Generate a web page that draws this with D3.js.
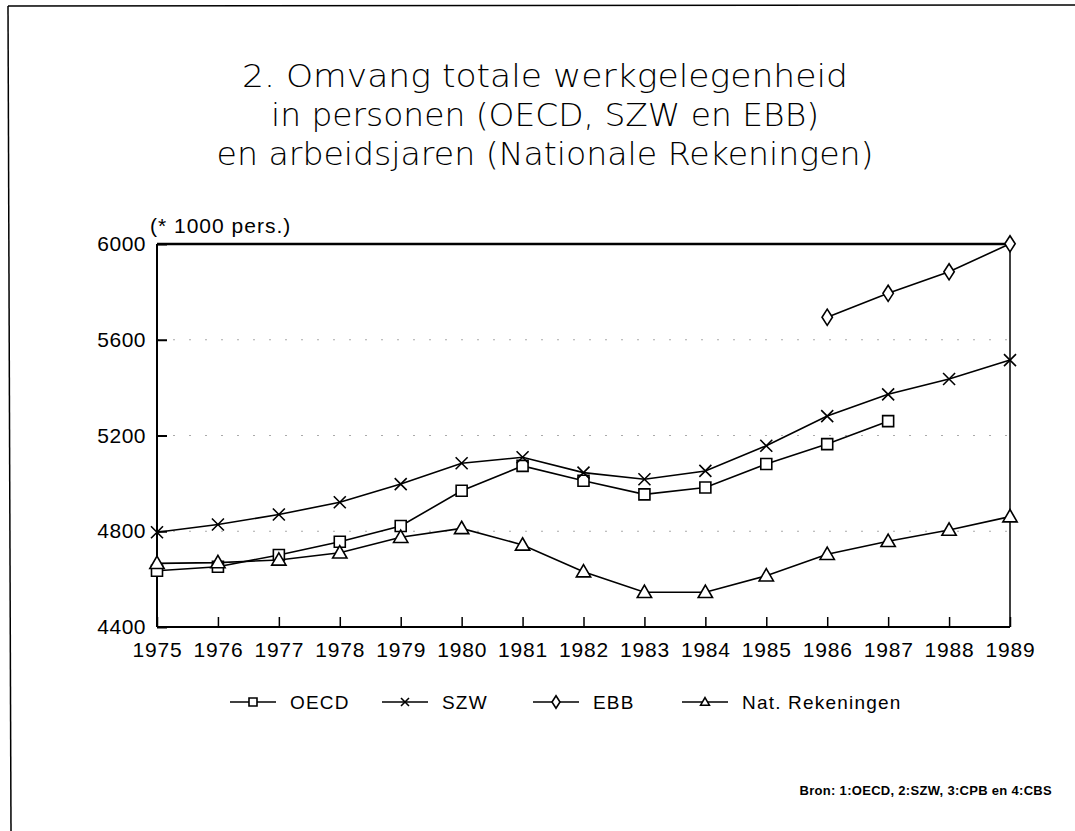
<!DOCTYPE html>
<html><head><meta charset="utf-8">
<script src="https://cdn.jsdelivr.net/npm/d3@7"></script>
<style>body{margin:0;background:#fff}svg{display:block}text{font-family:"Liberation Sans",Arial,sans-serif;fill:#000}</style>
</head><body><svg id="c" width="1075" height="831"></svg>
<script>
const years = [1975,1976,1977,1978,1979,1980,1981,1982,1983,1984,1985,1986,1987,1988,1989];
const oecd = [4635,4652,4701,4756,4822,4969,5073,5011,4954,4983,5081,5164,5260,null,null];
const szw = [4796,4828,4870,4921,4997,5084,5109,5045,5017,5052,5157,5281,5372,5436,5515];
const ebb = [null,null,null,null,null,null,null,null,null,null,null,5694,5794,5884,6001];
const natRek = [4666,4669,4680,4710,4775,4812,4743,4631,4545,4545,4614,4704,4758,4805,4861];
const yTicks = [4400,4800,5200,5600,6000];
const seriesNames = ["OECD","SZW","EBB","Nat. Rekeningen"];
const titleLines = ["2. Omvang totale werkgelegenheid","in personen (OECD, SZW en EBB)","en arbeidsjaren (Nationale Rekeningen)"];

const svg = d3.select("#c");
const L=157, R=1010, T=244, B=627;
const x = d3.scaleLinear().domain([1975,1989]).range([L,R]);
const y = d3.scaleLinear().domain([4400,6000]).range([B,T]);

// page frame
svg.append("line").attr("x1",8).attr("y1",6).attr("x2",1075).attr("y2",5).attr("stroke","#000").attr("stroke-width",1.5);
svg.append("line").attr("x1",8).attr("y1",6).attr("x2",11).attr("y2",831).attr("stroke","#000").attr("stroke-width",1.5);

// title
const titleW = [606,548,657];
svg.append("g").selectAll("text").data(titleLines).join("text")
  .attr("x",545).attr("y",(d,i)=>87+i*39).attr("text-anchor","middle")
  .attr("textLength",(d,i)=>titleW[i]).attr("lengthAdjust","spacingAndGlyphs")
  .style("font-family","'DejaVu Sans',sans-serif").style("font-weight","200")
  .style("font-size","32px").text(d=>d);

svg.append("text").attr("x",150).attr("y",233)
  .style("font-size","21px").style("letter-spacing","1px").text("(* 1000 pers.)");

// faint gridlines
svg.append("g").selectAll("line").data(yTicks.filter(v=>v>4400&&v<6000)).join("line")
  .attr("x1",L).attr("x2",R).attr("y1",d=>y(d)).attr("y2",d=>y(d))
  .attr("stroke","#aaa").attr("stroke-width",1).attr("stroke-dasharray","2,14");

// axes
const yAxis = d3.axisLeft(y).tickValues(yTicks).tickSize(-10).tickPadding(11).tickFormat(d3.format("d"));
const gy = svg.append("g").attr("transform",`translate(${L},0)`).call(yAxis);
gy.select(".domain").remove();
gy.selectAll("line").attr("stroke-width",2);
gy.selectAll("text").style("font-size","21px").style("letter-spacing","0.5px").attr("font-family","Liberation Sans, Arial").attr("fill","#000");

const xAxis = d3.axisBottom(x).tickValues(years).tickSize(-10).tickPadding(15).tickFormat(d3.format("d"));
const gx = svg.append("g").attr("transform",`translate(0,${B})`).call(xAxis);
gx.select(".domain").remove();
gx.selectAll("line").attr("stroke-width",1.5);
gx.selectAll("text").style("font-size","21px").style("letter-spacing","0.8px").attr("font-family","Liberation Sans, Arial").attr("fill","#000");

// frame
svg.append("line").attr("x1",L).attr("x2",L).attr("y1",T).attr("y2",B).attr("stroke","#000").attr("stroke-width",2);
svg.append("line").attr("x1",L).attr("x2",R).attr("y1",B).attr("y2",B).attr("stroke","#000").attr("stroke-width",2);
svg.append("line").attr("x1",L).attr("x2",R).attr("y1",T).attr("y2",T).attr("stroke","#000").attr("stroke-width",2.5);
svg.append("line").attr("x1",R).attr("x2",R).attr("y1",T).attr("y2",B).attr("stroke","#000").attr("stroke-width",1.5);

function marker(g, type, s){
  const p = g.append("path").attr("fill","#fff").attr("stroke","#000").attr("stroke-width",1.6);
  if(type==="square") p.attr("d",`M${-s/2},${-s/2}h${s}v${s}h${-s}Z`);
  if(type==="x") p.attr("fill","none").attr("d",`M${-s/2},${-s/2}L${s/2},${s/2}M${-s/2},${s/2}L${s/2},${-s/2}`);
  if(type==="diamond") p.attr("d",`M0,${-s*0.62}L${s*0.4},0L0,${s*0.62}L${-s*0.4},0Z`);
  if(type==="tri") p.attr("d",`M0,${-s*0.55}L${s*0.55},${s*0.4}L${-s*0.55},${s*0.4}Z`);
}

const series = [
  {name:seriesNames[0], vals:oecd, m:"square"},
  {name:seriesNames[1], vals:szw, m:"x"},
  {name:seriesNames[2], vals:ebb, m:"diamond"},
  {name:seriesNames[3], vals:natRek, m:"tri"}
];
const line = d3.line().defined(d=>d.v!=null).x(d=>x(d.yr)).y(d=>y(d.v));
series.forEach(s=>{
  const pts = years.map((yr,i)=>({yr, v:s.vals[i]}));
  svg.append("path").datum(pts).attr("d",line).attr("fill","none").attr("stroke","#000").attr("stroke-width",1.6);
  svg.append("g").selectAll("g").data(pts.filter(d=>d.v!=null)).join("g")
    .attr("transform",d=>`translate(${x(d.yr)},${y(d.v)})`)
    .each(function(){ marker(d3.select(this), s.m, s.m==="x"?12:s.m==="diamond"?13:s.m==="tri"?13:11); });
});

// legend
const legX = [230,382,533,682];
const legend = svg.append("g");
series.forEach((s,i)=>{
  const g = legend.append("g").attr("transform",`translate(${legX[i]},702)`);
  g.append("line").attr("x1",0).attr("x2",46).attr("y1",0).attr("y2",0).attr("stroke","#000").attr("stroke-width",1.6);
  const mg = g.append("g").attr("transform","translate(23,0)");
  marker(mg, s.m, s.m==="diamond"?10:8);
  g.append("text").attr("x",60).attr("y",7).style("font-size","19px").style("letter-spacing","1.2px").text(s.name);
});

svg.append("text").attr("x",1052).attr("y",795).attr("text-anchor","end")
  .style("font-size","13px").style("font-weight","bold").style("letter-spacing","0.3px")
  .text("Bron: 1:OECD, 2:SZW, 3:CPB en 4:CBS");
</script></body></html>
